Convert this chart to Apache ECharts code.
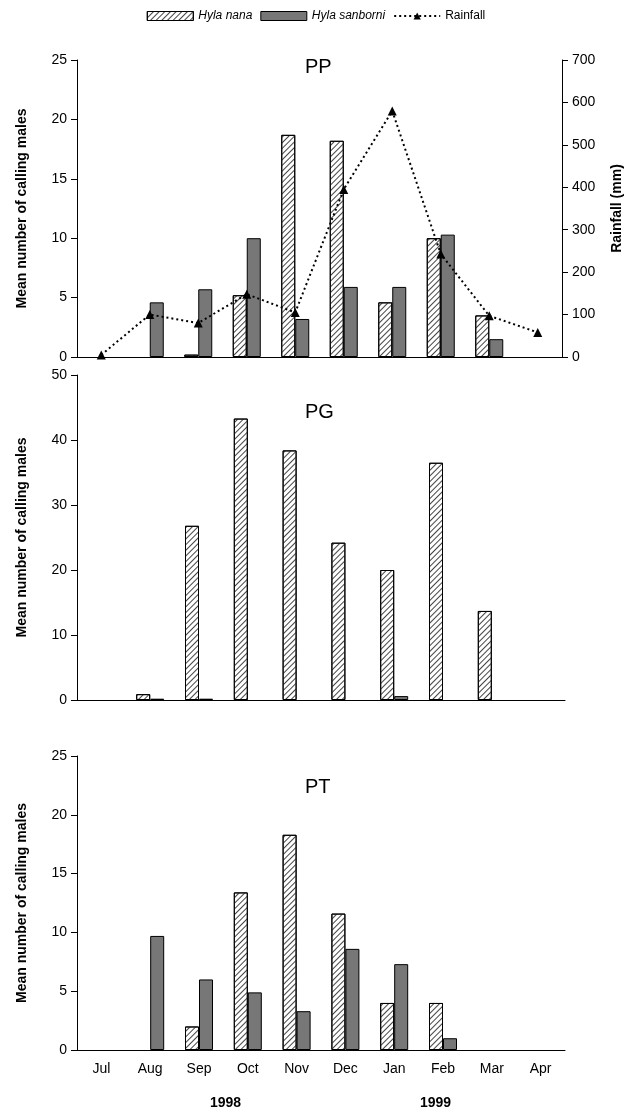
<!DOCTYPE html>
<html><head><meta charset="utf-8">
<script src="https://cdn.jsdelivr.net/npm/echarts@6/dist/echarts.min.js"></script>
<style>html,body{margin:0;background:#fff}#c{width:632px;height:1117px}</style>
</head><body><div id="c"></div>
<script>
const months = ['Jul', 'Aug', 'Sep', 'Oct', 'Nov', 'Dec', 'Jan', 'Feb', 'Mar', 'Apr']
// PP
const ppNana = [null, null, 0.2, 5.2, 18.7, 18.2, 4.6, 10.0, 3.5, null]
const ppSanborni = [null, 4.6, 5.7, 10.0, 3.2, 5.9, 5.9, 10.3, 1.5, null]
const rainfall = [5, 100, 80, 148, 105, 395, 580, 243, 97, 58]
// PG
const pgNana = [null, 0.9, 26.8, 43.3, 38.4, 24.2, 20.0, 36.5, 13.7, null]
const pgSanborni = [null, 0.2, 0.2, null, null, null, 0.6, null, null, null]
// PT
const ptNana = [null, null, 2.0, 13.4, 18.3, 11.6, 4.0, 4.0, null, null]
const ptSanborni = [null, 9.7, 6.0, 4.9, 3.3, 8.6, 7.3, 1.0, null, null]

const chart = echarts.init(document.getElementById('c'))
const font = 'Arial, "Liberation Sans", sans-serif'
const hatch = {
  color: '#fff', borderColor: '#000', borderWidth: 1,
  decal: { symbol: 'rect', color: '#444', dashArrayX: [1, 0], dashArrayY: [1, 3], rotation: -Math.PI / 4, symbolSize: 1 }
}
const dark = { color: '#777', borderColor: '#000', borderWidth: 1 }

const grids = [
  { left: 77, right: 67, top: 60, height: 297 },
  { left: 77, right: 67, top: 375, height: 325 },
  { left: 77, right: 67, top: 756, height: 294 }
]
const xAxes = grids.map((g, i) => ({
  type: 'category', gridIndex: i, data: months,
  axisLine: { lineStyle: { color: '#000' } },
  axisTick: { length: 5, lineStyle: { color: '#000' } },
  axisLabel: { show: i === 2, color: '#000', fontSize: 14, fontFamily: font, margin: 12 }
}))
const yName = 'Mean number of calling males'
function yAx(i, max, interval) {
  return {
    type: 'value', gridIndex: i, min: 0, max, interval,
    name: yName, nameLocation: 'middle', nameGap: 48,
    nameTextStyle: { fontWeight: 'bold', fontSize: 14, fontFamily: font, color: '#000' },
    axisLine: { show: true, lineStyle: { color: '#000' } },
    axisTick: { show: true, length: 6, lineStyle: { color: '#000' } },
    splitLine: { show: false },
    axisLabel: { color: '#000', fontSize: 14, fontFamily: font, margin: 10 }
  }
}
const yAxes = [yAx(0, 25, 5), yAx(1, 50, 10), yAx(2, 25, 5), {
  type: 'value', gridIndex: 0, min: 0, max: 700, interval: 100, position: 'right',
  name: 'Rainfall (mm)', nameLocation: 'middle', nameGap: 48, nameRotate: 90,
  nameTextStyle: { fontWeight: 'bold', fontSize: 14, fontFamily: font, color: '#000' },
  axisLine: { show: true, lineStyle: { color: '#000' } },
  axisTick: { show: true, length: 6, lineStyle: { color: '#000' } },
  splitLine: { show: false },
  axisLabel: { color: '#000', fontSize: 14, fontFamily: font, margin: 10 }
}]
function bars(name, data, i, style) {
  return { name, type: 'bar', xAxisIndex: i, yAxisIndex: i, data, itemStyle: style, barWidth: 14, barGap: '0%' }
}
const legendText = { fontSize: 12, fontFamily: font, color: '#000' }
chart.setOption({
  animation: false,
  aria: { enabled: false, decal: { show: true } },
  legend: {
    top: 5, left: 'center', itemWidth: 46, itemHeight: 9, itemGap: 8,
    itemStyle: { borderWidth: 1 },
    textStyle: legendText,
    data: [
      { name: 'Hyla nana', icon: 'rect', textStyle: { fontStyle: 'italic' } },
      { name: 'Hyla sanborni', icon: 'rect', textStyle: { fontStyle: 'italic' } },
      { name: 'Rainfall' }
    ]
  },
  title: [
    { text: 'PP', left: 300, top: 52, textStyle: { fontSize: 20, fontWeight: 'normal', fontFamily: font, color: '#000' } },
    { text: 'PG', left: 300, top: 397, textStyle: { fontSize: 20, fontWeight: 'normal', fontFamily: font, color: '#000' } },
    { text: 'PT', left: 300, top: 772, textStyle: { fontSize: 20, fontWeight: 'normal', fontFamily: font, color: '#000' } }
  ],
  grid: grids,
  xAxis: xAxes,
  yAxis: yAxes,
  series: [
    bars('Hyla nana', ppNana, 0, hatch),
    bars('Hyla sanborni', ppSanborni, 0, dark),
    {
      name: 'Rainfall', type: 'line', xAxisIndex: 0, yAxisIndex: 3, data: rainfall,
      symbol: 'triangle', symbolSize: 9, itemStyle: { color: '#000' },
      lineStyle: { color: '#000', width: 2, type: [2, 3] }
    },
    bars('Hyla nana', pgNana, 1, hatch),
    bars('Hyla sanborni', pgSanborni, 1, dark),
    bars('Hyla nana', ptNana, 2, hatch),
    bars('Hyla sanborni', ptSanborni, 2, dark)
  ],
  graphic: [
    { type: 'text', left: 210, top: 1096, style: { text: '1998', font: 'bold 14px ' + font, fill: '#000' } },
    { type: 'text', left: 420, top: 1096, style: { text: '1999', font: 'bold 14px ' + font, fill: '#000' } }
  ]
})
</script></body></html>
